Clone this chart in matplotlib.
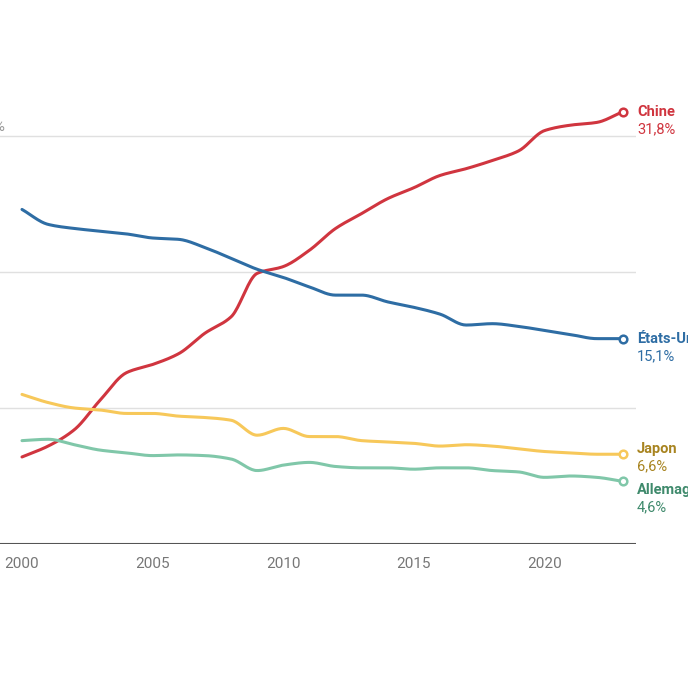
import numpy as np
import matplotlib
matplotlib.use('Agg')
from matplotlib import pyplot as plt

# Données (part en %)
annees = list(range(2000, 2024))
chine = [6.4, 7.2, 8.4, 10.6, 12.6, 13.2, 14.0, 15.5, 16.7, 19.9, 20.4, 21.6,
         23.2, 24.3, 25.4, 26.2, 27.1, 27.6, 28.2, 28.9, 30.4, 30.8, 31.0, 31.8]
etats_unis = [24.6, 23.5, 23.2, 23.0, 22.8, 22.5, 22.4, 21.8, 21.0, 20.2, 19.6, 18.9,
              18.3, 18.3, 17.8, 17.4, 16.9, 16.1, 16.2, 16.0, 15.7, 15.4, 15.1, 15.1]
japon = [11.0, 10.4, 10.0, 9.85, 9.6, 9.6, 9.4, 9.3, 9.1, 8.0, 8.5, 7.9,
         7.9, 7.6, 7.5, 7.4, 7.2, 7.3, 7.2, 7.0, 6.8, 6.7, 6.6, 6.6]
allemagne = [7.6, 7.7, 7.3, 6.9, 6.7, 6.5, 6.55, 6.5, 6.25, 5.4, 5.8, 6.0,
             5.7, 5.6, 5.6, 5.5, 5.6, 5.6, 5.4, 5.3, 4.9, 5.0, 4.9, 4.6]

noms = ['Chine', 'États-Unis', 'Japon', 'Allemagne']
valeurs_fin = ['31,8%', '15,1%', '6,6%', '4,6%']
couleurs = ['#d0353f', '#2e6da4', '#f7c85a', '#80c7a9']
couleurs_txt = ['#d0353f', '#2e6da4', '#a88420', '#3f8a6c']
decalage = [0, 0, 4, -6]  # décalage vertical des étiquettes (points) pour éviter le chevauchement
series = [chine, etats_unis, japon, allemagne]

plt.rcParams['font.family'] = ['Roboto', 'DejaVu Sans']


# Courbe lissée (monotone) entre les points
def lisse(x, y, n=20):
    x = np.asarray(x, float)
    y = np.asarray(y, float)
    h = np.diff(x)
    d = np.diff(y) / h
    m = np.zeros_like(y)
    m[0], m[-1] = d[0], d[-1]
    for i in range(1, len(y) - 1):
        if d[i - 1] * d[i] > 0:
            m[i] = 2 / (1 / d[i - 1] + 1 / d[i])
    xs, ys = [], []
    for i in range(len(x) - 1):
        t = np.linspace(0, 1, n, endpoint=False)
        h00 = 2 * t**3 - 3 * t**2 + 1
        h10 = t**3 - 2 * t**2 + t
        h01 = -2 * t**3 + 3 * t**2
        h11 = t**3 - t**2
        xs.extend(x[i] + t * h[i])
        ys.extend(h00 * y[i] + h10 * h[i] * m[i] + h01 * y[i + 1] + h11 * h[i] * m[i + 1])
    xs.append(x[-1])
    ys.append(y[-1])
    return xs, ys


fig = plt.figure(figsize=(6.88, 6.88), dpi=100)
ax = fig.add_axes([0, 144 / 688, 636 / 688, 544 / 688])
ax.set_xlim(2000 - 22 / 26.13, 2000 + 614 / 26.13)
ax.set_ylim(0, 40)

for y in [10, 20, 30]:
    ax.axhline(y, color='#e0e0e0', lw=1, zorder=0)
ax.axhline(0, color='#555555', lw=1.5, zorder=1)

for s, c in zip(series, couleurs):
    xs, ys = lisse(annees, s)
    ax.plot(xs, ys, color=c, lw=2.2, solid_capstyle='round', zorder=3)
    ax.plot(annees[-1], s[-1], 'o', ms=5.5, mfc='white', mec=c, mew=1.8, zorder=4, clip_on=False)

for nom, val, s, c, dy in zip(noms, valeurs_fin, series, couleurs_txt, decalage):
    ax.annotate(nom, (annees[-1], s[-1]), xytext=(10, dy), textcoords='offset points',
                color=c, fontsize=10.5, fontweight='bold', va='center', ha='left',
                annotation_clip=False)
    ax.annotate(val, (annees[-1], s[-1]), xytext=(10, dy - 12.5), textcoords='offset points',
                color=c, fontsize=10.5, va='center', ha='left', annotation_clip=False)

# étiquette de l'axe y, coupée par le bord gauche
fig.text(5 / 688, 1 - 127 / 688, '30 %', ha='right', va='center', color='#999999', fontsize=10.5)

ax.set_xticks([2000, 2005, 2010, 2015, 2020])
ax.tick_params(axis='x', length=0, pad=9, labelsize=11, colors='#777777')
ax.set_yticks([])
for sp in ax.spines.values():
    sp.set_visible(False)

fig.savefig('out.png', dpi=100)
